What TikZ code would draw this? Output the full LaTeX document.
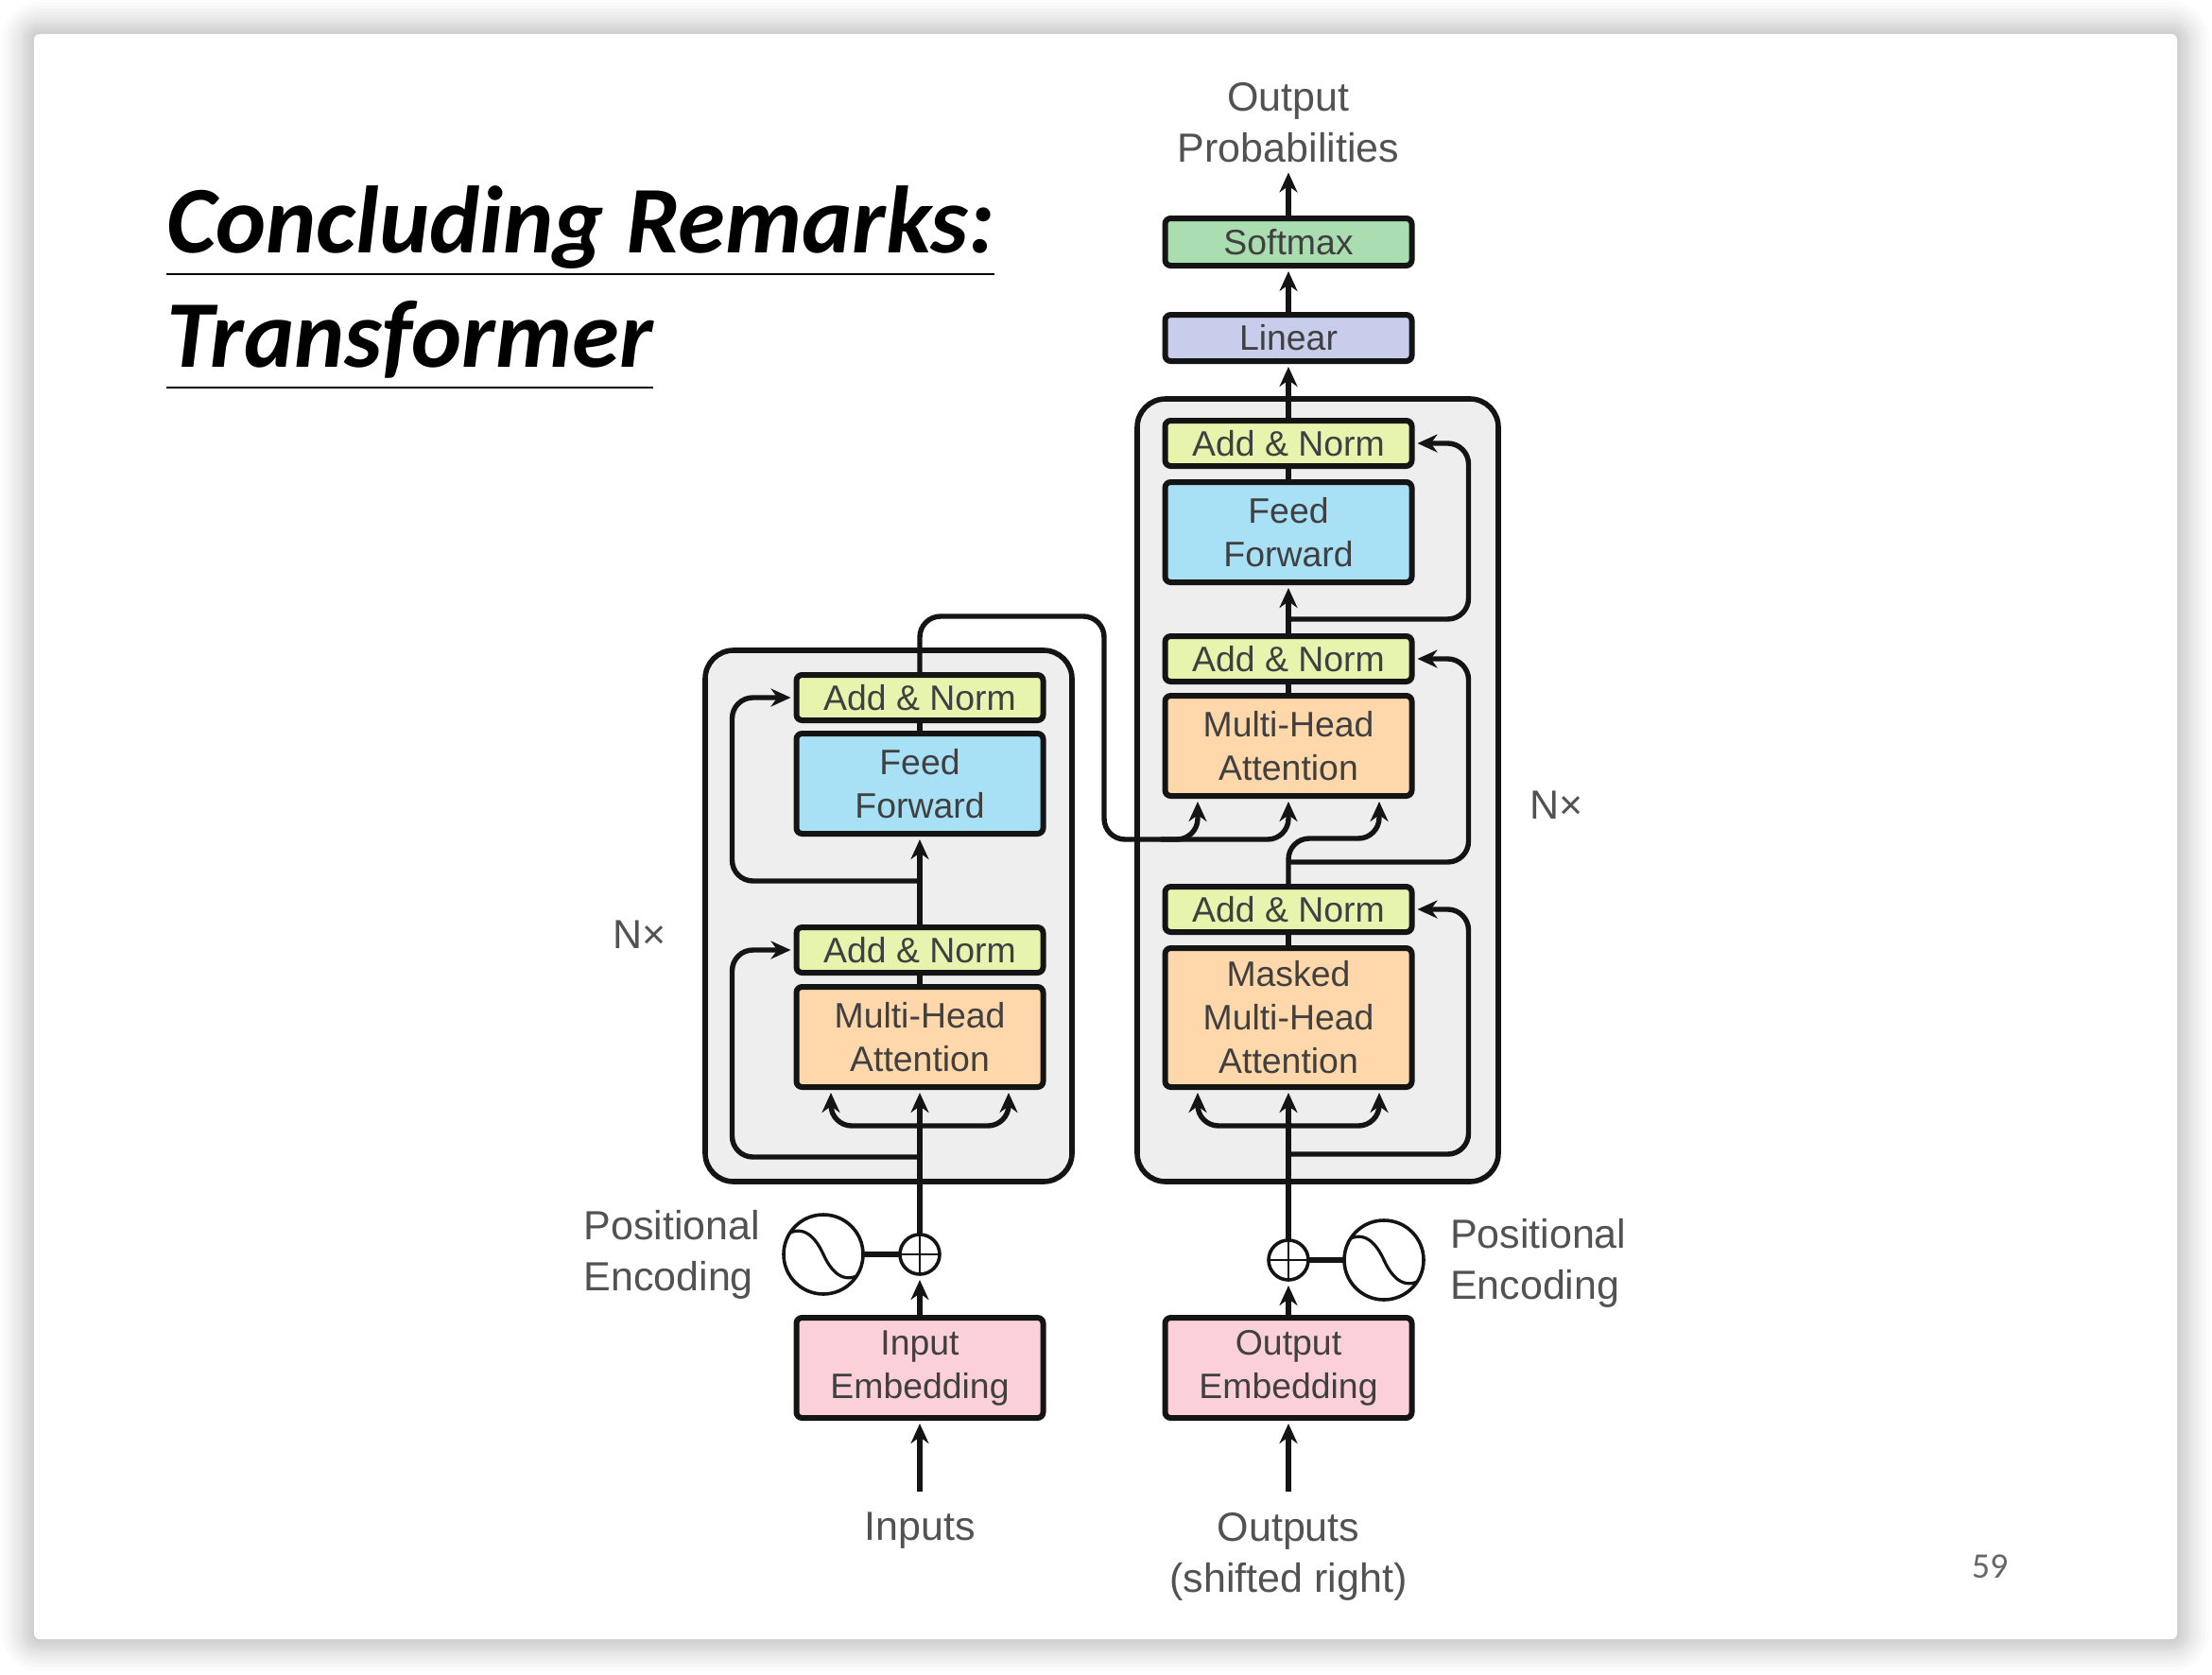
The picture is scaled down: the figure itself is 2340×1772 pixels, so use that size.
\documentclass[tikz,border=0pt]{standalone}
\usepackage{fontspec}
\setmainfont{Liberation Sans}
\newfontfamily\titlefont{Carlito}
\usetikzlibrary{arrows.meta,positioning,calc,fit,backgrounds}
\definecolor{ink}{RGB}{20,20,20}
\definecolor{soft}{RGB}{238,238,238}
\definecolor{normC}{RGB}{230,244,174}
\definecolor{feedC}{RGB}{168,224,245}
\definecolor{headC}{RGB}{254,216,170}
\definecolor{embedC}{RGB}{252,208,216}
\definecolor{softC}{RGB}{170,221,176}
\definecolor{linC}{RGB}{201,205,236}
\tikzset{
  block/.style={draw=ink,line width=3pt,rounded corners=3pt,minimum width=130.5pt,
    inner sep=0pt,outer sep=0pt,align=center,text=black!75,
    font=\fontsize{18.7}{23}\selectfont},
  normbox/.style={block,fill=normC,minimum height=24pt},
  feedbox/.style={block,fill=feedC,minimum height=53pt},
  headbox/.style={block,fill=headC,minimum height=53pt},
  embedbox/.style={block,fill=embedC,minimum height=53pt},
  lbl/.style={inner sep=8pt,outer sep=0pt,align=center,text=black!68,
    font=\fontsize{21.5}{27}\selectfont},
  stackbox/.style={draw=ink,line width=2.8pt,fill=soft,rounded corners=15pt,inner sep=0pt,outer sep=0pt},
  wire/.style={line width=2.7pt,ink},
  arr/.style={wire,-{Stealth[length=10.5pt,width=9.5pt]},shorten >=3pt},
  bendarr/.style={arr,rounded corners=11pt},
  adder/.style={circle,draw=ink,line width=1.8pt,minimum size=21pt,inner sep=0pt,outer sep=0pt,
    path picture={\draw[line width=1.4pt,ink]
      (path picture bounding box.north) -- (path picture bounding box.south)
      (path picture bounding box.west) -- (path picture bounding box.east);}},
  wavebox/.style={circle,draw=ink,line width=1.8pt,minimum size=42pt,inner sep=0pt,outer sep=0pt,
    path picture={\draw[line width=1.6pt,ink,shift={(path picture bounding box.center)}]
      (-42,-19) .. controls (-24,-32) and (-10,-22) .. (0,0)
      .. controls (10,22) and (24,32) .. (42,19);}},
  headline/.style={inner sep=0pt,outer sep=0pt,anchor=base west,text=black,
    font=\fontsize{50.5}{54}\selectfont\titlefont\bfseries\itshape},
  titlerule/.style={line width=1pt,black},
}

\begin{document}
\begin{tikzpicture}[x=0.5pt,y=-0.5pt]
  \useasboundingbox (0,0) rectangle (2340,1772);
  % encoder column
  \node[embedbox] (embE) at (973,1447) {Input\\Embedding};
  \node[headbox,above=122pt of embE] (headE) {Multi-Head\\Attention};
  \node[normbox,above=7.5pt of headE] (normE1) {Add \& Norm};
  \node[feedbox,above=49.5pt of normE1] (feedE) {Feed\\Forward};
  \node[normbox,above=7pt of feedE] (normE2) {Add \& Norm};
  \node[adder,above=23pt of embE] (plusE) {};
  \node[wavebox,left=19.5pt of plusE] (waveE) {};
  \node[lbl,left=4.5pt of waveE,align=left] (posE) {Positional\\Encoding};
  \node[lbl,below=42pt of embE] (inp) {Inputs};
  % decoder column
  \node[embedbox] (embD) at (1363,1447) {Output\\Embedding};
  \node[headbox,above=122pt of embD,minimum height=73.5pt] (maskD) {Masked\\Multi-Head\\Attention};
  \node[normbox,above=8.5pt of maskD] (normD1) {Add \& Norm};
  \node[headbox,above=48pt of normD1] (headD) {Multi-Head\\Attention};
  \node[normbox,above=7.5pt of headD] (normD2) {Add \& Norm};
  \node[feedbox,above=28.5pt of normD2] (feedD) {Feed\\Forward};
  \node[normbox,above=8.5pt of feedD] (normD3) {Add \& Norm};
  \node[block,fill=linC,minimum height=24.5pt,above=31.5pt of normD3] (linear) {Linear};
  \node[block,fill=softC,minimum height=25pt,above=26pt of linear] (softmax) {Softmax};
  \node[adder,above=20pt of embD] (plusD) {};
  \node[wavebox,right=19pt of plusD] (waveD) {};
  \node[lbl,right=6pt of waveD,align=left,yshift=-1.5pt] (posD) {Positional\\Encoding};
  \node[lbl,below=42pt of embD] (outs) {Outputs\\(shifted right)};
  \node[lbl,above=21.75pt of softmax] (probs) {Output\\Probabilities};
  % side labels
  \node[lbl] (nE) at (677,989) {N×};
  \node[lbl] (nD) at (1647,852) {N×};
  \node[text=black!60,inner sep=0pt,font=\fontsize{19}{22}\selectfont\titlefont] (page) at (2105,1657) {59};
  % title
  \node[headline] (title1) at (176,267) {Concluding Remarks:};
  \node[headline] (title2) at (176,388) {Transformer};
  \draw[titlerule] ($(title1.base west)+(0,23)$) -- ($(title1.base east)+(0,23)$);
  \draw[titlerule] ($(title2.base west)+(0,22)$) -- ($(title2.base east)+(0,22)$);
  % encoder wires
  \draw[arr,shorten <=3pt] (inp) -- (embE);
  \draw[arr] (embE) -- (plusE);
  \draw[wire] (waveE) -- (plusE);
  \draw[arr] (plusE) -- (headE);
  \draw[bendarr] ($(headE.south)+(0,41)$) -| ($(headE.south)+(-94,0)$);
  \draw[bendarr] ($(headE.south)+(0,41)$) -| ($(headE.south)+(94,0)$);
  \draw[bendarr] ($(headE.south)+(0,74)$) -| ($(normE1.west)+(-68,0)$) -- (normE1);
  \draw[wire] (headE) -- (normE1);
  \draw[arr] (normE1) -- (feedE);
  \draw[bendarr] ($(feedE.south)+(0,50)$) -| ($(normE2.west)+(-68,0)$) -- (normE2);
  \draw[wire] (feedE) -- (normE2);
  % decoder wires
  \draw[arr,shorten <=3pt] (outs) -- (embD);
  \draw[arr] (embD) -- (plusD);
  \draw[wire] (waveD) -- (plusD);
  \draw[arr] (plusD) -- (maskD);
  \draw[bendarr] ($(maskD.south)+(0,41)$) -| ($(maskD.south)+(-96,0)$);
  \draw[bendarr] ($(maskD.south)+(0,41)$) -| ($(maskD.south)+(96,0)$);
  \draw[bendarr] ($(maskD.south)+(0,71)$) -| ($(normD1.east)+(60,0)$) -- (normD1);
  \draw[wire] (maskD) -- (normD1);
  \draw[bendarr] (normD1.north) |- ($(headD.south)+(96,45)$) -- ($(headD.south)+(96,0)$);
  \draw[bendarr] ($(normD1.north)+(0,-26)$) -| ($(normD2.east)+(60,0)$) -- (normD2);
  \draw[wire] (headD) -- (normD2);
  \draw[arr] (normD2) -- (feedD);
  \draw[bendarr] ($(normD2.north)+(0,-18)$) -| ($(normD3.east)+(60,0)$) -- (normD3);
  \draw[wire] (feedD) -- (normD3);
  \draw[arr] (normD3) -- (linear);
  \draw[arr] (linear) -- (softmax);
  \draw[arr,shorten >=-2.5pt] (softmax) -- (probs);
  % link from encoder to decoder
  \coordinate (busT) at (1168,652);
  \coordinate (busB) at (1168,888);
  \draw[bendarr] (normE2.north) |- (busT) -- (busB) -| ($(headD.south)+(-96,0)$);
  \draw[bendarr] ($(busB)+(60,0)$) -| (headD.south);
  \begin{scope}[on background layer]
    \foreach \d in {2,4,6,8,10,12,14,17,20,23,26,30,34}
      \fill[black,opacity=0.016,rounded corners={(\d*0.5+3)*1pt}]
        (36-\d,36-\d) rectangle (2303+\d,1734+\d);
    \fill[white,rounded corners=3pt] (36,36) rectangle (2303,1734);
    \node[stackbox,fit={(746,688)(1134,1250)}] (stackE) {};
    \node[stackbox,fit={(1203,422)(1585,1250)}] (stackD) {};
  \end{scope}
\end{tikzpicture}
\end{document}
